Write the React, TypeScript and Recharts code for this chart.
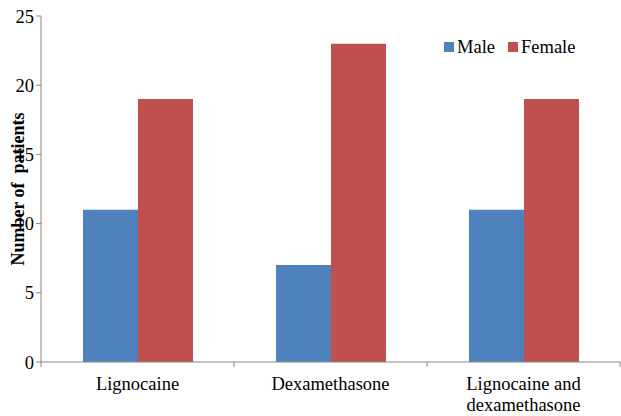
import { BarChart, Bar, XAxis, YAxis } from 'recharts';

const categories = ['Lignocaine', 'Dexamethasone', 'Lignocaine and dexamethasone'];
const categoryLines = [['Lignocaine'], ['Dexamethasone'], ['Lignocaine and', 'dexamethasone']];
const maleValues = [11, 7, 11];
const femaleValues = [19, 23, 19];
const yTicks = [0, 5, 10, 15, 20, 25];
const seriesNames = ['Male', 'Female'];

const W = 621;
const H = 416;
const MARGIN = { top: 16, right: 1, left: 0, bottom: 0 };
const Y_AXIS_W = 41;
const AXIS_COLOR = '#868686';
const FONT = '"Liberation Serif", "Times New Roman", serif';

const data = categories.map((name, i) => ({
  name,
  Male: maleValues[i],
  Female: femaleValues[i],
}));

const seriesColors: Record<string, string> = { Male: '#4F81BD', Female: '#C0504D' };

// x ticks sit on category boundaries, labels may wrap to two lines
const CategoryTick = ({ x, y, index }: any) => {
  const band = (W - MARGIN.left - MARGIN.right - Y_AXIS_W) / categories.length;
  const lines = categoryLines[index] || [];
  return (
    <g>
      <line x1={x - band / 2} x2={x - band / 2} y1={y} y2={y + 5} stroke={AXIS_COLOR} />
      {index === categories.length - 1 && (
        <line x1={x + band / 2} x2={x + band / 2} y1={y} y2={y + 5} stroke={AXIS_COLOR} />
      )}
      {lines.map((line: string, i: number) => (
        <text
          key={i}
          x={x}
          y={y + 28 + i * 21}
          textAnchor="middle"
          fontFamily={FONT}
          fontSize={18.5}
          fill="#000"
        >
          {line}
        </text>
      ))}
    </g>
  );
};

// legend drawn as an overlay so it does not take space from the plot
const LegendBox = () => (
  <div
    style={{
      position: 'absolute',
      left: 444,
      top: 38,
      display: 'flex',
      alignItems: 'center',
      fontFamily: FONT,
      fontSize: 18.5,
      lineHeight: 1,
      color: '#000',
    }}
  >
    {seriesNames.map((key) => (
      <div key={key} style={{ display: 'flex', alignItems: 'center', marginRight: 13 }}>
        <span style={{ display: 'inline-block', width: 10, height: 10, background: seriesColors[key], marginRight: 3 }} />
        <span>{key}</span>
      </div>
    ))}
  </div>
);

export default function App() {
  return (
    <div style={{ position: 'absolute', left: 0, top: 0, width: W, height: H, background: '#fff' }}>
      <BarChart width={W} height={H} data={data} margin={MARGIN} barCategoryGap={42} barGap={0}>
        <XAxis
          dataKey="name"
          height={H - 362}
          tickSize={0}
          tickMargin={0}
          interval={0}
          tick={<CategoryTick />}
          axisLine={{ stroke: AXIS_COLOR }}
        />
        <YAxis
          width={Y_AXIS_W}
          domain={[0, 25]}
          ticks={yTicks}
          interval={0}
          tickSize={5}
          tickLine={{ stroke: AXIS_COLOR }}
          axisLine={{ stroke: AXIS_COLOR }}
          tick={{ fill: '#000', fontSize: 18.5, fontFamily: FONT }}
          label={{
            value: 'Number of\u00a0 patients',
            angle: -90,
            position: 'center',
            dx: -3,
            fontFamily: FONT,
            fontSize: 18,
            fontWeight: 'bold',
            fill: '#000',
            style: { fontFamily: FONT, fontSize: 18, fontWeight: 'bold', fill: '#000' },
          }}
        />
        {seriesNames.map((key) => (
          <Bar key={key} dataKey={key} fill={seriesColors[key]} isAnimationActive={false} />
        ))}
      </BarChart>
      <LegendBox />
    </div>
  );
}
